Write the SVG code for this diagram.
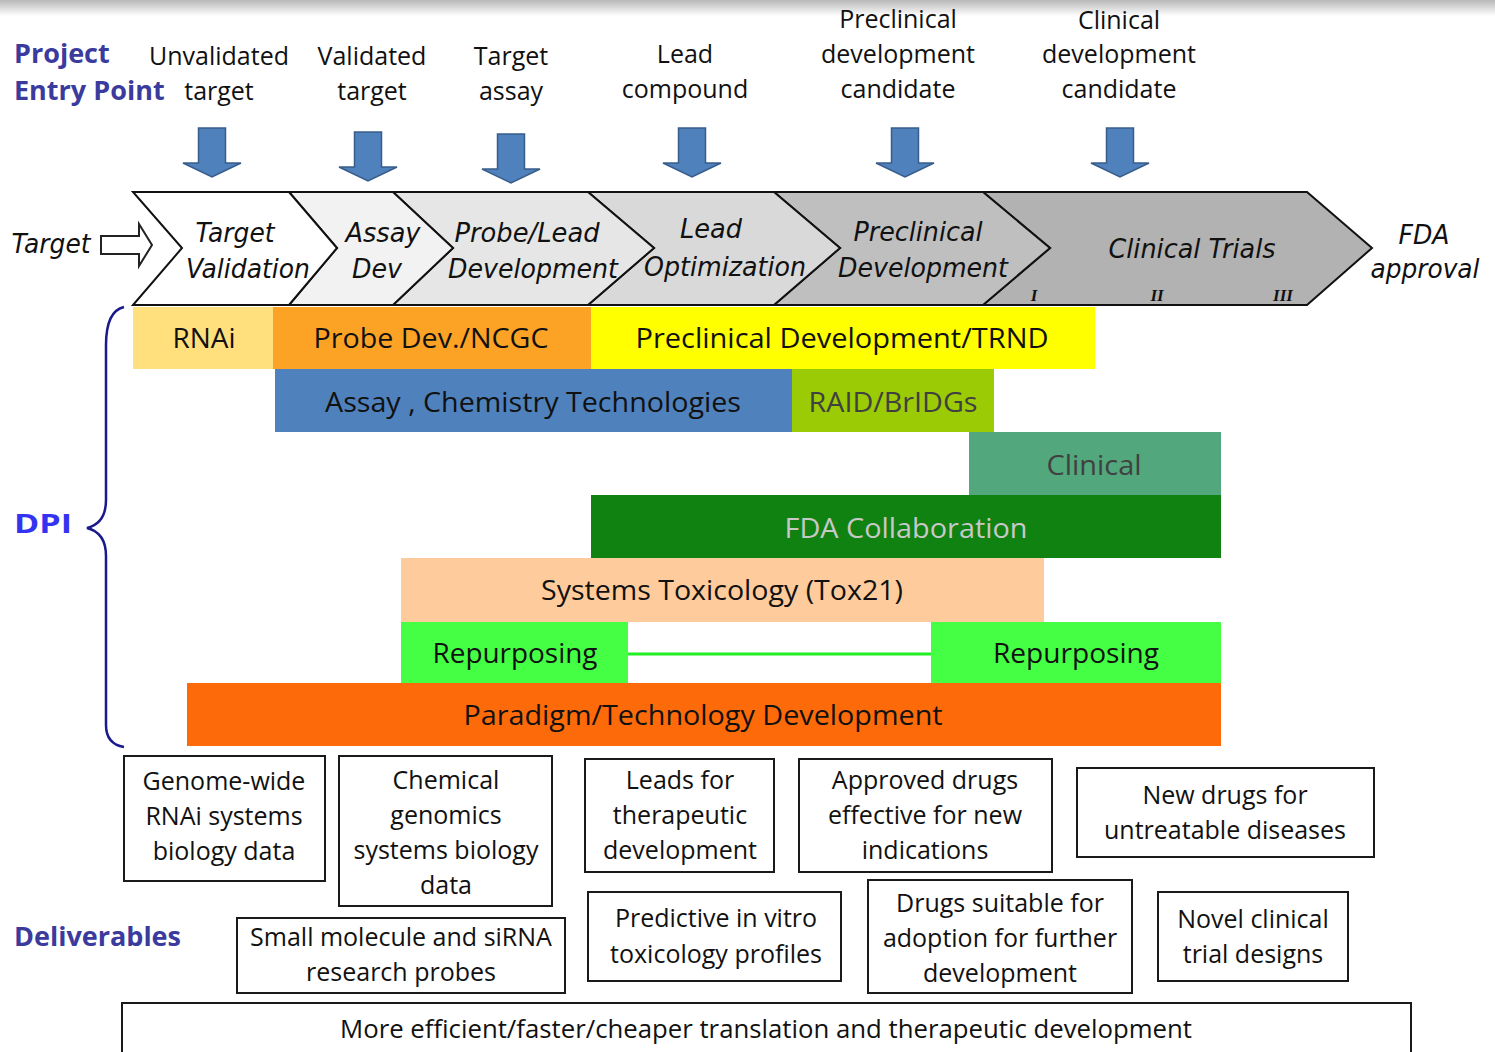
<svg xmlns="http://www.w3.org/2000/svg" width="1495" height="1052" viewBox="0 0 1495 1052">
<defs>
<linearGradient id="topshade" x1="0" y1="0" x2="0" y2="1">
<stop offset="0" stop-color="#b8b8b8"/>
<stop offset="1" stop-color="#ffffff"/>
</linearGradient>
<path id="blueArrow" d="M-13.5,0 H13.5 V35 H29 L0,49 L-29,35 H-13.5 Z"/>
</defs>
<style>
.hdr{font-family:"Open Sans","Liberation Sans",sans-serif;font-weight:bold;font-size:27px;fill:#3b3b9e}
.lab{font-family:"Open Sans","Liberation Sans",sans-serif;font-size:25px;fill:#111;text-anchor:middle}
.chev{stroke:#111;stroke-width:2;stroke-linejoin:miter}
.ct{font-family:"DejaVu Sans","Verdana",sans-serif;font-style:italic;font-size:26px;fill:#111;text-anchor:middle}
.rn{font-family:"Liberation Serif","Times New Roman",serif;font-style:italic;font-weight:bold;font-size:17px;fill:#111;text-anchor:middle}
.bt{font-family:"Open Sans","Liberation Sans",sans-serif;font-size:28px;fill:#111;text-anchor:middle}
.box{fill:#fff;stroke:#1a1a1a;stroke-width:2}
.arr{fill:#4f81bd;stroke:#385d8a;stroke-width:1.5}
</style>
<rect x="0" y="0" width="1495" height="1052" fill="#ffffff"/>
<rect x="0" y="0" width="1495" height="16" fill="url(#topshade)"/>

<g id="header-labels">
<text class="hdr" x="14" y="63">Project</text>
<text class="hdr" x="14" y="100">Entry Point</text>
<text class="hdr" x="14" y="946">Deliverables</text>
<text class="hdr" x="14" y="533" fill="#3434f0" style="fill:#3434f0" textLength="58" lengthAdjust="spacingAndGlyphs">DPI</text>
</g>

<g id="entry-labels">
<text class="lab" x="219" y="65">Unvalidated</text>
<text class="lab" x="219" y="100">target</text>
<text class="lab" x="372" y="65">Validated</text>
<text class="lab" x="372" y="100">target</text>
<text class="lab" x="511" y="65">Target</text>
<text class="lab" x="511" y="100">assay</text>
<text class="lab" x="685" y="63">Lead</text>
<text class="lab" x="685" y="98">compound</text>
<text class="lab" x="898" y="28">Preclinical</text>
<text class="lab" x="898" y="63">development</text>
<text class="lab" x="898" y="98">candidate</text>
<text class="lab" x="1119" y="29">Clinical</text>
<text class="lab" x="1119" y="63">development</text>
<text class="lab" x="1119" y="98">candidate</text>
</g>

<g id="entry-arrows">
<use href="#blueArrow" class="arr" transform="translate(212,128)"/>
<use href="#blueArrow" class="arr" transform="translate(368,132)"/>
<use href="#blueArrow" class="arr" transform="translate(511,134)"/>
<use href="#blueArrow" class="arr" transform="translate(692,128)"/>
<use href="#blueArrow" class="arr" transform="translate(905,128)"/>
<use href="#blueArrow" class="arr" transform="translate(1120,128)"/>
</g>

<g id="target-in">
<text class="ct" x="51" y="253" textLength="79" lengthAdjust="spacingAndGlyphs">Target</text>
<path d="M101,236 H139 V224 L152,245 L139,266 V254 H101 Z" fill="#fff" stroke="#222" stroke-width="2"/>
</g>

<g id="stage-clinical-trials">
<polygon class="chev" fill="#b2b2b2" points="983,192 1307,192 1372,248 1307,305 983,305 1050,248"/>
<text class="ct" x="1192" y="258" textLength="167" lengthAdjust="spacingAndGlyphs">Clinical  Trials</text>
<text class="rn" x="1034" y="301">I</text>
<text class="rn" x="1157" y="301">II</text>
<text class="rn" x="1283" y="301">III</text>
</g>
<g id="stage-preclinical">
<polygon class="chev" fill="#bfbfbf" points="774,192 983,192 1050,248 983,305 774,305 840,248"/>
<text class="ct" x="918" y="241" textLength="129" lengthAdjust="spacingAndGlyphs">Preclinical</text>
<text class="ct" x="923" y="277" textLength="170" lengthAdjust="spacingAndGlyphs">Development</text>
</g>
<g id="stage-lead-opt">
<polygon class="chev" fill="#d9d9d9" points="588,192 774,192 840,248 774,305 588,305 654,248"/>
<text class="ct" x="711" y="238" textLength="62" lengthAdjust="spacingAndGlyphs">Lead</text>
<text class="ct" x="725" y="276" textLength="162" lengthAdjust="spacingAndGlyphs">Optimization</text>
</g>
<g id="stage-probe-lead">
<polygon class="chev" fill="#e6e6e6" points="393,192 588,192 654,248 588,305 393,305 453,248"/>
<text class="ct" x="527" y="242" textLength="145" lengthAdjust="spacingAndGlyphs">Probe/Lead</text>
<text class="ct" x="533" y="278" textLength="170" lengthAdjust="spacingAndGlyphs">Development</text>
</g>
<g id="stage-assay-dev">
<polygon class="chev" fill="#f2f2f2" points="289,192 393,192 453,248 393,305 289,305 337,248"/>
<text class="ct" x="383" y="242" textLength="75" lengthAdjust="spacingAndGlyphs">Assay</text>
<text class="ct" x="377" y="278" textLength="50" lengthAdjust="spacingAndGlyphs">Dev</text>
</g>
<g id="stage-target-validation">
<polygon class="chev" fill="#ffffff" points="133,192 289,192 337,248 289,305 133,305 182,248"/>
<text class="ct" x="235" y="242" textLength="79" lengthAdjust="spacingAndGlyphs">Target</text>
<text class="ct" x="248" y="278" textLength="124" lengthAdjust="spacingAndGlyphs">Validation</text>
</g>
<g id="fda-approval">
<text class="ct" x="1424" y="244" textLength="51" lengthAdjust="spacingAndGlyphs">FDA</text>
<text class="ct" x="1425" y="278" textLength="109" lengthAdjust="spacingAndGlyphs">approval</text>
</g>

<g id="dpi-brace">
<path d="M124,307 C111,310 106,324 106,345 L106,500 C106,516 99,525 87,528 C99,531 106,540 106,556 L106,725 C106,738 112,745 124,747" fill="none" stroke="#1a1a8c" stroke-width="2.5"/>
</g>

<g id="bar-rnai">
<rect x="133" y="307" width="140" height="62" fill="#ffe07c"/>
<text class="bt" x="204" y="348" textLength="63" lengthAdjust="spacingAndGlyphs">RNAi</text>
</g>
<g id="bar-probe">
<rect x="273" y="307" width="318" height="62" fill="#fca326"/>
<text class="bt" x="431" y="348" textLength="235" lengthAdjust="spacingAndGlyphs">Probe Dev./NCGC</text>
</g>
<g id="bar-trnd">
<rect x="591" y="307" width="504" height="62" fill="#ffff00"/>
<text class="bt" x="842" y="348" textLength="413" lengthAdjust="spacingAndGlyphs">Preclinical Development/TRND</text>
</g>
<g id="bar-assay">
<rect x="275" y="369" width="517" height="63" fill="#4f81bd"/>
<text class="bt" x="533" y="412" textLength="416" lengthAdjust="spacingAndGlyphs">Assay , Chemistry Technologies</text>
</g>
<g id="bar-raid">
<rect x="792" y="369" width="202" height="63" fill="#9bcb04"/>
<text class="bt" x="893" y="412" fill="#404040" style="fill:#404040" textLength="169" lengthAdjust="spacingAndGlyphs">RAID/BrIDGs</text>
</g>
<g id="bar-clinical">
<rect x="969" y="432" width="252" height="63" fill="#52a77c"/>
<text class="bt" x="1094" y="475" style="fill:#404040" textLength="95" lengthAdjust="spacingAndGlyphs">Clinical</text>
</g>
<g id="bar-fda">
<rect x="591" y="495" width="630" height="63" fill="#108211"/>
<text class="bt" x="906" y="538" style="fill:#c8c8c8" textLength="243" lengthAdjust="spacingAndGlyphs">FDA Collaboration</text>
</g>
<g id="bar-tox21">
<rect x="401" y="558" width="643" height="64" fill="#fecc9c"/>
<text class="bt" x="722" y="600" textLength="362" lengthAdjust="spacingAndGlyphs">Systems Toxicology (Tox21)</text>
</g>
<g id="connectors">
<line x1="628" y1="654" x2="931" y2="654" stroke="#22ee22" stroke-width="3"/>
</g>
<g id="bar-repurposing-1">
<rect x="401" y="622" width="227" height="61" fill="#44ff44"/>
<text class="bt" x="515" y="663" textLength="165" lengthAdjust="spacingAndGlyphs">Repurposing</text>
</g>
<g id="bar-repurposing-2">
<rect x="931" y="622" width="290" height="61" fill="#44ff44"/>
<text class="bt" x="1076" y="663" textLength="166" lengthAdjust="spacingAndGlyphs">Repurposing</text>
</g>
<g id="bar-paradigm">
<rect x="187" y="683" width="1034" height="63" fill="#fd6a0a"/>
<text class="bt" x="703" y="725" textLength="479" lengthAdjust="spacingAndGlyphs">Paradigm/Technology Development</text>
</g>

<g id="del-rnai">
<rect class="box" x="124" y="756" width="201" height="125"/>
<text class="lab" x="224" y="790">Genome-wide</text>
<text class="lab" x="224" y="825">RNAi systems</text>
<text class="lab" x="224" y="860">biology data</text>
</g>
<g id="del-chemgen">
<rect class="box" x="339" y="756" width="213" height="150"/>
<text class="lab" x="446" y="789">Chemical</text>
<text class="lab" x="446" y="824">genomics</text>
<text class="lab" x="446" y="859">systems biology</text>
<text class="lab" x="446" y="894">data</text>
</g>
<g id="del-leads">
<rect class="box" x="585" y="759" width="189" height="113"/>
<text class="lab" x="680" y="789">Leads for</text>
<text class="lab" x="680" y="824">therapeutic</text>
<text class="lab" x="680" y="859">development</text>
</g>
<g id="del-approved">
<rect class="box" x="799" y="759" width="253" height="113"/>
<text class="lab" x="925" y="789">Approved drugs</text>
<text class="lab" x="925" y="824">effective for new</text>
<text class="lab" x="925" y="859">indications</text>
</g>
<g id="del-newdrugs">
<rect class="box" x="1077" y="768" width="297" height="89"/>
<text class="lab" x="1225" y="804">New drugs for</text>
<text class="lab" x="1225" y="839">untreatable diseases</text>
</g>
<g id="del-probes">
<rect class="box" x="237" y="918" width="328" height="75"/>
<text class="lab" x="401" y="946">Small molecule and siRNA</text>
<text class="lab" x="401" y="981">research probes</text>
</g>
<g id="del-tox">
<rect class="box" x="588" y="892" width="253" height="89"/>
<text class="lab" x="716" y="927">Predictive in vitro</text>
<text class="lab" x="716" y="963">toxicology profiles</text>
</g>
<g id="del-adoption">
<rect class="box" x="868" y="880" width="264" height="113"/>
<text class="lab" x="1000" y="912">Drugs suitable for</text>
<text class="lab" x="1000" y="947">adoption for further</text>
<text class="lab" x="1000" y="982">development</text>
</g>
<g id="del-trials">
<rect class="box" x="1158" y="892" width="190" height="89"/>
<text class="lab" x="1253" y="928">Novel clinical</text>
<text class="lab" x="1253" y="963">trial designs</text>
</g>
<g id="del-overall">
<rect class="box" x="122" y="1003" width="1289" height="60"/>
<text class="lab" x="766" y="1038" textLength="852" lengthAdjust="spacingAndGlyphs">More efficient/faster/cheaper  translation and therapeutic development</text>
</g>
</svg>
